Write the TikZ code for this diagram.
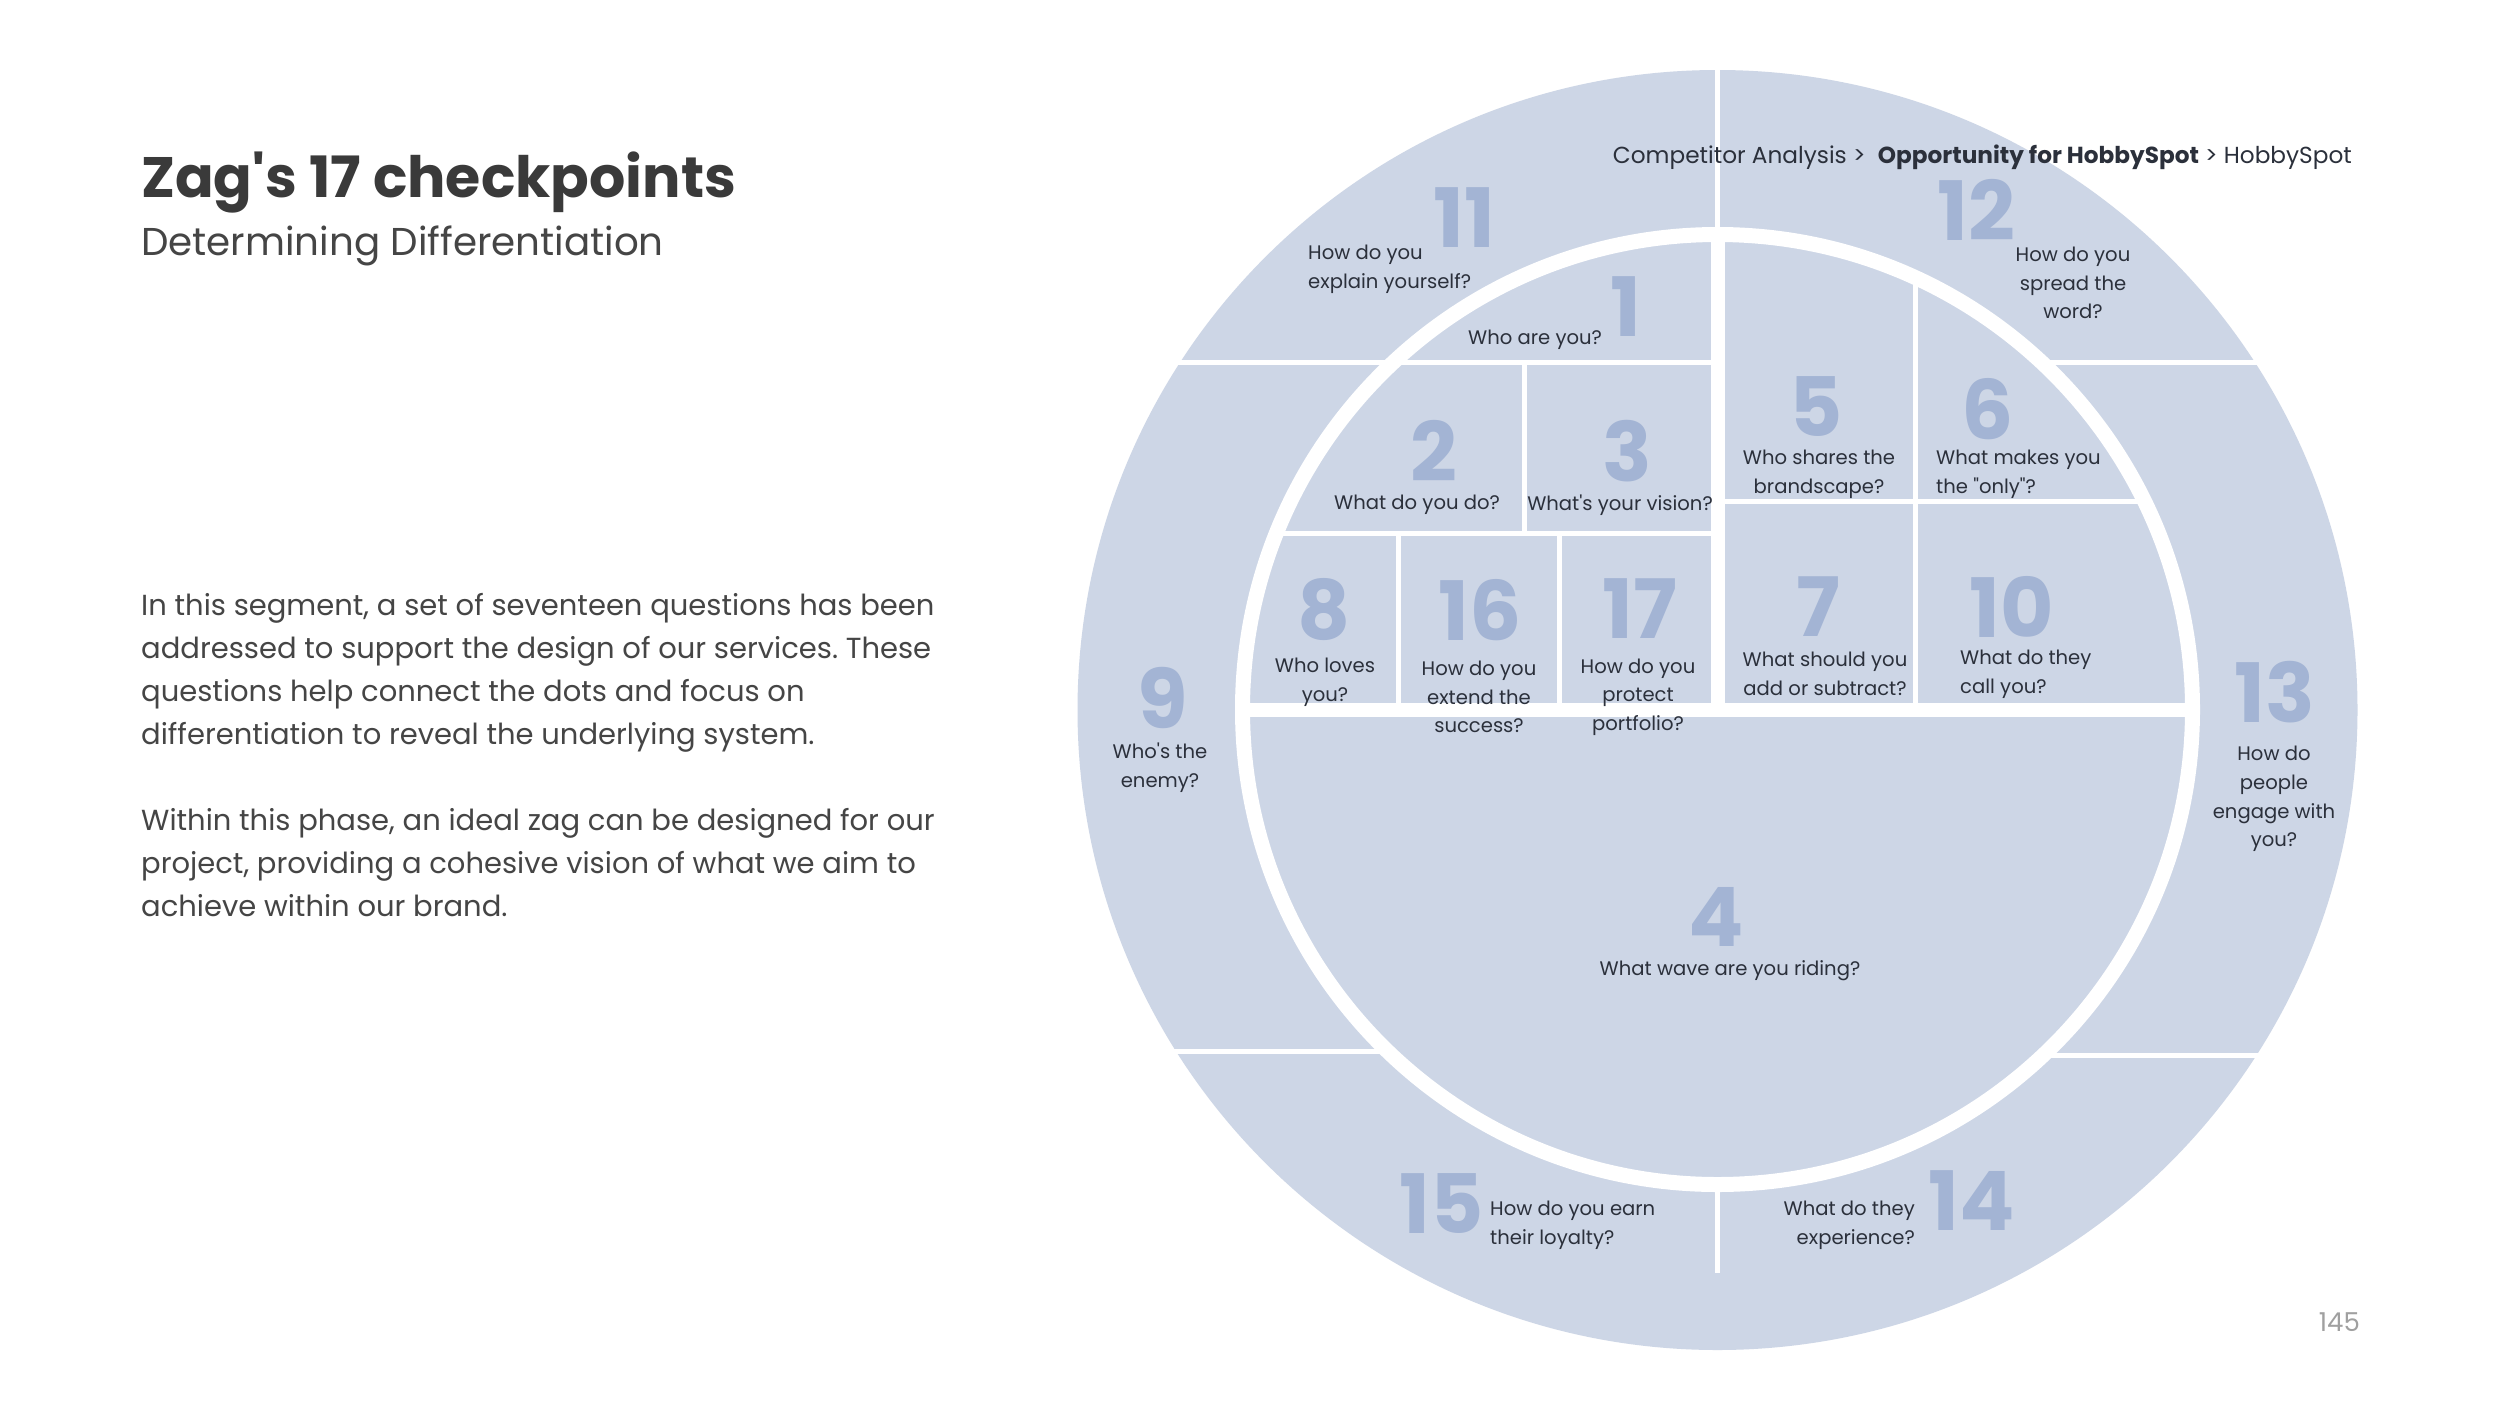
\documentclass[tikz,border=0pt]{standalone}
\usepackage{fontspec}
\setmainfont{Poppins}[Ligatures=TeXOff]
\frenchspacing
\definecolor{diskblue}{HTML}{CDD6E6}
\definecolor{numblue}{HTML}{A3B4D4}
\definecolor{qtext}{HTML}{2B303B}
\definecolor{titlegray}{HTML}{3A3A3A}
\definecolor{bodygray}{HTML}{454545}
\definecolor{pagegray}{HTML}{A0A0A0}
\begin{document}
\begin{tikzpicture}[x=1pt,y=-1pt,
  q/.style={font=\fontsize{19.6}{28.7}\selectfont, text=qtext, inner sep=0pt, align=center},
  ql/.style={q, align=left},
  qr/.style={q, align=right},
  num/.style={font=\fontsize{82}{82}\selectfont\bfseries, text=numblue, inner sep=0pt},
  divider/.style={draw=white, line width=5pt},
  band/.style={draw=white, line width=14pt},
  ringline/.style={draw=white, line width=15pt},
  body/.style={font=\fontsize{29}{43}\selectfont, text=bodygray, inner sep=0pt, align=left}]
\useasboundingbox (0,0) rectangle (2500,1406);
\fill[white] (0,0) rectangle (2500,1406);

% disk
\fill[diskblue] (1717.5,710) circle (640);

% outer band dividers
\draw[divider] (1717.5,60) -- (1717.5,234.5);
\draw[divider] (1717.5,1184.5) -- (1717.5,1273);
\draw[divider] (1160,362.5) -- (1717.5,362.5);
\draw[divider] (2041,362.5) -- (2290,362.5);
\draw[divider] (1150,1051) -- (1387,1051);
\draw[divider] (2044,1055) -- (2290,1055);

% inner dividers
\draw[band] (1717.5,234.5) -- (1717.5,710);
\draw[band] (1240,710) -- (2195,710);
\draw[divider] (1277,533) -- (1717.5,533);
\draw[divider] (1717.5,501) -- (2144,501);
\draw[divider] (1524,362.5) -- (1524,533);
\draw[divider] (1398.5,533) -- (1398.5,710);
\draw[divider] (1559.5,533) -- (1559.5,710);
\draw[divider] (1915.5,278) -- (1915.5,710);

% ring
\draw[ringline] (1717.5,709.5) circle (475);

% numbers
\node[num] (n11) at (1464,218) {11};
\node[num] (n12) at (1976,210) {12};
\node[num] (n1) at (1626,307) {1};
\node[num] (n2) at (1434,451) {2};
\node[num] (n3) at (1627,451) {3};
\node[num] (n5) at (1816,407) {5};
\node[num] (n6) at (1988,409) {6};
\node[num] (n8) at (1324,610) {8};
\node[num] (n16) at (1480,610) {16};
\node[num] (n17) at (1640,609) {17};
\node[num] (n7) at (1818,607) {7};
\node[num] (n10) at (2012,607) {10};
\node[num] (n9) at (1163,698) {9};
\node[num] (n13) at (2275,692) {13};
\node[num] (n4) at (1716,917) {4};
\node[num] (n15) at (1442,1204) {15};
\node[num] (n14) at (1972,1201) {14};

% questions
\node[ql, anchor=west] (q11) at (1308,269) {How do you\\explain yourself?};
\node[q] (q12) at (2073,283) {How do you\\spread the\\word?};
\node[q] (q1) at (1535,340) {Who are you?};
\node[q] (q2) at (1417,505) {What do you do?};
\node[q] (q3) at (1620,505) {What's your vision?};
\node[q] (q5) at (1819,474) {Who shares the\\brandscape?};
\node[ql, anchor=west] (q6) at (1936,474) {What makes you\\the "only"?};
\node[q] (q8) at (1325,682) {Who loves\\you?};
\node[q] (q16) at (1479,697) {How do you\\extend the\\success?};
\node[q] (q17) at (1638,697) {How do you\\protect\\portfolio?};
\node[q] (q7) at (1825,674) {What should you\\add or subtract?};
\node[ql, anchor=west] (q10) at (1960,674) {What do they\\call you?};
\node[q] (q9) at (1160,768) {Who's the\\enemy?};
\node[q] (q13) at (2274,799) {How do\\people\\engage with\\you?};
\node[q] (q4) at (1730,971) {What wave are you riding?};
\node[ql, anchor=west] (q15) at (1490,1225) {How do you earn\\their loyalty?};
\node[qr, anchor=east] (q14) at (1915,1225) {What do they\\experience?};

% breadcrumb
\node[anchor=base east, inner sep=0pt, text=qtext, font=\fontsize{23.2}{30}\selectfont] (crumb) at (2352,163)
  {Competitor Analysis >\ \ \textbf{Opportunity for HobbySpot} > HobbySpot};

% page number
\node[anchor=base east, inner sep=0pt, text=pagegray, font=\fontsize{26}{30}\selectfont] (page) at (2360,1331) {145};

% left text
\node[anchor=base west, inner sep=0pt, text=titlegray, font=\fontsize{57}{64}\selectfont\bfseries] (title) at (141,197) {Zag's 17 checkpoints};
\node[anchor=base west, inner sep=0pt, text=bodygray, font=\fontsize{38.8}{46}\selectfont] (subtitle) at (141,255) {Determining Differentiation};
\node[body, anchor=north west] (para1) at (141,593)
  {In this segment, a set of seventeen questions has been\\
   addressed to support the design of our services. These\\
   questions help connect the dots and focus on\\
   differentiation to reveal the underlying system.};
\node[body, anchor=north west] (para2) at (141,808)
  {Within this phase, an ideal zag can be designed for our\\
   project, providing a cohesive vision of what we aim to\\
   achieve within our brand.};
\end{tikzpicture}
\end{document}
